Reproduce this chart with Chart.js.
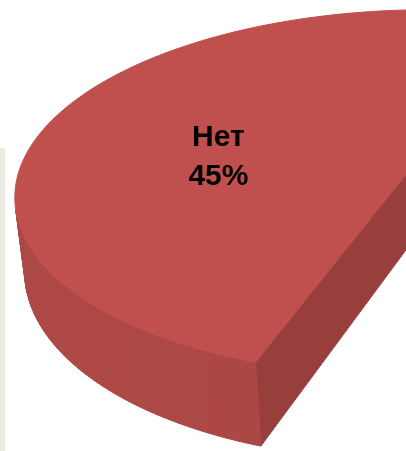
<!DOCTYPE html>
<html lang="ru">
<head>
<meta charset="utf-8">
<title>Нет / Да</title>
<script src="https://cdn.jsdelivr.net/npm/chart.js@4.4.1/dist/chart.umd.min.js"></script>
<style>
  html, body { margin: 0; padding: 0; background: #ffffff; overflow: hidden; }
  .wrap { position: relative; width: 406px; height: 451px; }
  .side-strip { position: absolute; left: 0; top: 148px; width: 5px; height: 303px; background: #ecebe3; }
  #pieChart { position: absolute; left: 0; top: 0; }
</style>
</head>
<body>
<div class="wrap">
  <div class="side-strip"></div>
  <canvas id="pieChart" width="406" height="451"></canvas>
</div>
<script>
// Answers and their shares
const answers = ['Нет', 'Да'];
const shares = [45, 55];
const sliceColors = ['#c0504d', '#4f81bd'];

// Camera for the tilted 3D pie: slice radius is 1 world unit
const view = {
  tx: 0.12234, ty: -0.1071,   // point the camera looks at (pie plane)
  dist: 4.42394,              // camera distance from that point
  pitch: 0.47242,             // elevation, radians
  focal: 1786.02,
  px: 468.36, py: 176.06,     // where the look-at point lands on the canvas
  depth: 0.21,                // pie thickness
  explode: 0.25               // slices pulled out from the centre
};
const labelRadius = 0.51;    // label anchor, fraction of radius
const labelTurn = 9.5;       // degrees, from the slice bisector
const light = { x: -0.768, y: -0.64 };

const sinP = Math.sin(view.pitch), cosP = Math.cos(view.pitch);
const camera = { x: view.tx, y: view.ty - view.dist * cosP, z: view.dist * sinP };

function project(X, Y, Z) {
  const dx = X - camera.x, dy = Y - camera.y, dz = Z - camera.z;
  const up = dy * sinP + dz * cosP;
  const ahead = dy * cosP - dz * sinP;
  return { x: view.px + view.focal * dx / ahead, y: view.py - view.focal * up / ahead };
}

function shade(hex, k) {
  const n = parseInt(hex.slice(1), 16);
  const r = Math.round(((n >> 16) & 255) * k);
  const g = Math.round(((n >> 8) & 255) * k);
  const b = Math.round((n & 255) * k);
  return `rgb(${r},${g},${b})`;
}

function polygon(ctx, pts, color) {
  ctx.beginPath();
  pts.forEach((p, i) => i ? ctx.lineTo(p.x, p.y) : ctx.moveTo(p.x, p.y));
  ctx.closePath();
  ctx.fillStyle = color;
  ctx.strokeStyle = color;
  ctx.lineWidth = 1;
  ctx.lineJoin = 'round';
  ctx.fill();
  ctx.stroke();
}

// does a face with outward normal (nx, ny) at point (x, y, 0) face the camera
function facing(x, y, nx, ny) {
  return (camera.x - x) * nx + (camera.y - y) * ny > 0;
}

function wallTone(nx, ny) {
  return 0.83 + 0.07 * (nx * light.x + ny * light.y);
}

function drawSlice(ctx, t0, t1, cx, cy, color) {
  const h = -view.depth;
  const steps = Math.max(8, Math.ceil((t1 - t0) / (Math.PI / 180)));
  const top = [], bottom = [], angles = [];
  for (let i = 0; i <= steps; i++) {
    const t = t0 + (t1 - t0) * i / steps;
    angles.push(t);
    top.push(project(cx + Math.cos(t), cy + Math.sin(t), 0));
    bottom.push(project(cx + Math.cos(t), cy + Math.sin(t), h));
  }
  const oTop = project(cx, cy, 0), oBottom = project(cx, cy, h);

  // flat side at the end angle
  let nx = -Math.sin(t1), ny = Math.cos(t1);
  if (facing(cx, cy, nx, ny)) {
    polygon(ctx, [oTop, top[steps], bottom[steps], oBottom], shade(color, wallTone(nx, ny)));
  }
  // flat side at the start angle
  nx = Math.sin(t0); ny = -Math.cos(t0);
  if (facing(cx, cy, nx, ny)) {
    polygon(ctx, [oTop, top[0], bottom[0], oBottom], shade(color, wallTone(nx, ny)));
  }
  // curved outer wall, one strip per step
  for (let i = 0; i < steps; i++) {
    const tm = (angles[i] + angles[i + 1]) / 2;
    const mx = Math.cos(tm), my = Math.sin(tm);
    if (!facing(cx + mx, cy + my, mx, my)) continue;
    polygon(ctx, [top[i], top[i + 1], bottom[i + 1], bottom[i]], shade(color, wallTone(mx, my)));
  }
  // lid
  polygon(ctx, [oTop, ...top], color);
}

const pie3d = {
  id: 'pie3d',
  afterDatasetsDraw(chart) {
    const ctx = chart.ctx;
    const meta = chart.getDatasetMeta(0);
    const data = chart.data.datasets[0].data;
    const total = data.reduce((a, b) => a + b, 0);
    const first = meta.data[0];
    // pie centre sits behind the first slice, which is pulled out
    const firstMid = -(first.startAngle + first.endAngle) / 2;
    const pcx = -view.explode * Math.cos(firstMid);
    const pcy = -view.explode * Math.sin(firstMid);

    ctx.save();
    meta.data.forEach((arc, i) => {
      // canvas angles run clockwise with y down; the pie plane runs counter-clockwise
      const t0 = -arc.endAngle, t1 = -arc.startAngle;
      const mid = (t0 + t1) / 2;
      const cx = pcx + view.explode * Math.cos(mid);
      const cy = pcy + view.explode * Math.sin(mid);
      drawSlice(ctx, t0, t1, cx, cy, sliceColors[i]);

      const la = mid + labelTurn * Math.PI / 180;
      const p = project(cx + labelRadius * Math.cos(la), cy + labelRadius * Math.sin(la), 0);
      const pct = Math.round(data[i] / total * 100);
      ctx.fillStyle = '#000000';
      ctx.font = 'bold 30px "Liberation Sans", Arial, sans-serif';
      ctx.textAlign = 'center';
      ctx.textBaseline = 'alphabetic';
      ctx.fillText(chart.data.labels[i], p.x, p.y - 10.5);
      ctx.fillText(pct + '%', p.x, p.y + 28);
    });
    ctx.restore();
  }
};

function renderChart() {
  const ctx = document.getElementById('pieChart').getContext('2d');
  new Chart(ctx, {
    type: 'pie',
    data: {
      labels: answers,
      datasets: [{
        data: shares,
        backgroundColor: 'rgba(0,0,0,0)',  // slices are painted by pie3d
        borderWidth: 0
      }]
    },
    options: {
      responsive: false,
      animation: false,
      rotation: -161.6,
      events: [],
      plugins: {
        legend: { display: false },
        tooltip: { enabled: false }
      }
    },
    plugins: [pie3d]
  });
}

document.addEventListener('DOMContentLoaded', renderChart);
</script>
</body>
</html>
